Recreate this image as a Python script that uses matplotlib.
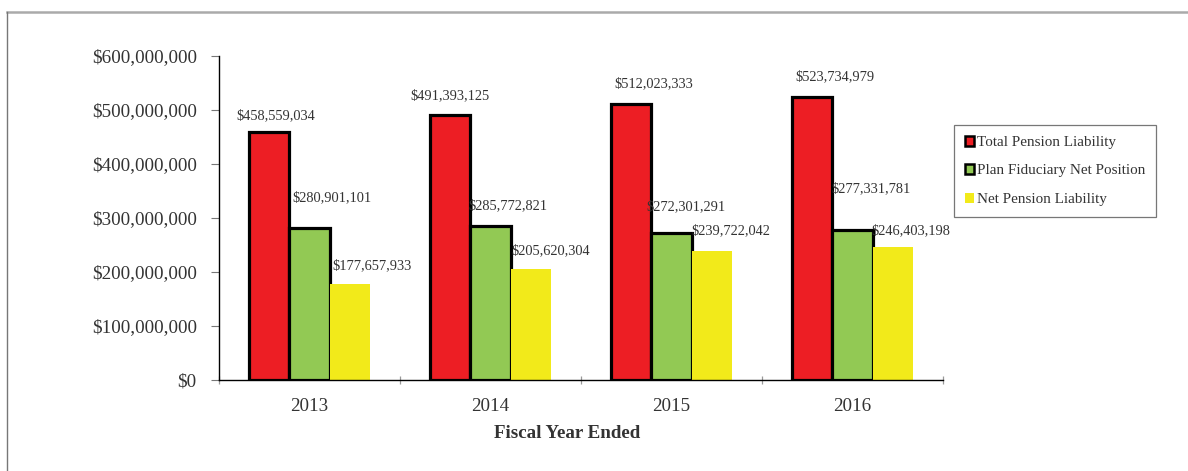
import matplotlib
matplotlib.use("Agg")
import matplotlib.pyplot as plt
from matplotlib.lines import Line2D
from matplotlib.patches import Patch
import numpy as np

plt.rcParams['font.family'] = ['Liberation Serif', 'DejaVu Serif']

years = ["2013", "2014", "2015", "2016"]
total_pension_liability = [458559034, 491393125, 512023333, 523734979]
plan_fiduciary_net_position = [280901101, 285772821, 272301291, 277331781]
net_pension_liability = [177657933, 205620304, 239722042, 246403198]
series_names = ["Total Pension Liability", "Plan Fiduciary Net Position", "Net Pension Liability"]

colors = ["#ED1E24", "#92C954", "#F2EA1A"]
edges = ["black", "black", "none"]
# label offsets (pixels) per series and year
label_dx = [[6, 0, 22, 23], [22, 17, 14, 18], [22, 20, 19, 18]]
label_dy = [[17, 19, 20, 20], [31, 20, 26, 42], [18, 18, 20, 16]]

fig = plt.figure(figsize=(11.88, 4.71), dpi=100)
ax = fig.add_axes([219 / 1188, 1 - 380 / 471, (943 - 219) / 1188, (380 - 56) / 471])

x = np.arange(len(years))
w = 0.222
all_series = [total_pension_liability, plan_fiduciary_net_position, net_pension_liability]
text_color = "#333333"
for i, vals in enumerate(all_series):
    pos = x + (i - 1) * w
    ax.bar(pos, vals, width=w, color=colors[i], edgecolor=edges[i],
           linewidth=2.3 if edges[i] != "none" else 0, label=series_names[i], zorder=2)
    for j, v in enumerate(vals):
        ax.annotate(f"${v:,.0f}", (pos[j], v), xytext=(label_dx[i][j], label_dy[i][j]),
                    textcoords="offset pixels", ha="center", va="center",
                    fontsize=10.4, color=text_color)

ax.set_xlim(-0.5, len(years) - 0.5)
ax.set_ylim(0, 600000000)
ax.set_yticks(np.arange(0, 600000001, 100000000))
ax.yaxis.set_major_formatter(matplotlib.ticker.FuncFormatter(lambda v, p: f"${v:,.0f}"))
ax.tick_params(axis="y", length=6, width=0.8, color="#777777", labelsize=13.7,
               labelcolor=text_color, direction="out", pad=10)

ax.set_xticks(x)
ax.set_xticklabels(years)
ax.set_xticks(np.arange(-0.5, len(years)), minor=True)
ax.tick_params(axis="x", which="major", length=0, labelsize=13.7, labelcolor=text_color, pad=13)
ax.tick_params(axis="x", which="minor", length=6, width=0.9, color="#999999", direction="inout")

for s in ["top", "right"]:
    ax.spines[s].set_visible(False)
ax.spines["left"].set_color("black")
ax.spines["bottom"].set_color("black")
ax.spines["left"].set_linewidth(1.0)
ax.spines["bottom"].set_linewidth(1.0)

fig.text(567 / 1188, 1 - 433 / 471, "Fiscal Year Ended", ha="center", va="center",
         fontsize=13.7, fontweight="bold", color=text_color)

# legend
handles = [Patch(facecolor=colors[i], edgecolor=edges[i],
                 linewidth=1.8 if edges[i] != "none" else 0) for i in range(3)]
leg = fig.legend(handles, series_names, loc="upper left",
                 bbox_to_anchor=(954 / 1188, 1 - 125 / 471),
                 fontsize=10.9, frameon=True, fancybox=False, edgecolor="#555555",
                 handlelength=0.65, handleheight=0.65, handletextpad=0.15,
                 labelspacing=1.0, borderpad=0.7, borderaxespad=0)
leg.get_frame().set_linewidth(0.9)
for t in leg.get_texts():
    t.set_color(text_color)

# outer frame lines
fig.add_artist(Line2D([7 / 1188, 1.0], [1 - 12 / 471, 1 - 12 / 471],
                      transform=fig.transFigure, color="#AAAAAA", linewidth=1.8))
fig.add_artist(Line2D([7 / 1188, 7 / 1188], [0, 1 - 12 / 471],
                      transform=fig.transFigure, color="#777777", linewidth=1.0))

fig.savefig("out.png", dpi=100)
